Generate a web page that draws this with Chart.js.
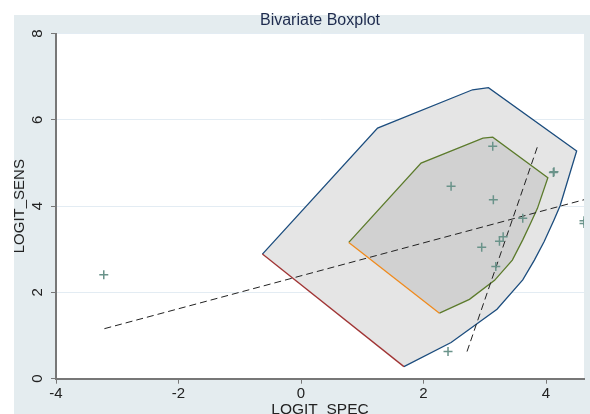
<!DOCTYPE html>
<html>
<head>
<meta charset="utf-8">
<script src="https://cdn.jsdelivr.net/npm/chart.js@4.4.1/dist/chart.umd.min.js"></script>
<style>
  html, body { margin: 0; padding: 0; background: #fff; }
  #wrap { width: 590px; height: 414px; }
</style>
</head>
<body>
<div id="wrap"><canvas id="boxplot"></canvas></div>
<script>
// outer hull (fence), starts at left vertex, goes clockwise, closes back
var outerX = [-0.63, 1.25, 2.80, 3.06, 4.50, 4.23, 4.13, 3.97, 3.81, 3.62, 3.20, 2.45, 1.68, -0.63];
var outerY = [2.89, 5.81, 6.70, 6.75, 5.28, 4.01, 3.68, 3.18, 2.75, 2.29, 1.61, 0.84, 0.28, 2.89];

// inner hull (hinge)
var innerX = [0.78, 1.96, 2.97, 3.13, 4.03, 3.86, 3.75, 3.62, 3.45, 3.16, 2.75, 2.26, 0.78];
var innerY = [3.16, 5.00, 5.58, 5.60, 4.66, 3.95, 3.61, 3.22, 2.75, 2.28, 1.84, 1.52, 3.16];

// observed studies
var ptX = [-3.22, 2.40, 2.45, 3.13, 3.14, 2.95, 3.18, 3.24, 3.30, 3.62, 4.12, 4.13, 4.62, 4.62];
var ptY = [2.41, 0.63, 4.46, 5.39, 4.15, 3.05, 2.60, 3.19, 3.29, 3.72, 4.78, 4.80, 3.60, 3.66];

// regression lines (y on x, x on y)
var line1X = [-3.21, 4.62];
var line1Y = [1.16, 4.15];
var line2X = [2.71, 3.86];
var line2Y = [0.63, 5.38];

var xTicks = [-4, -2, 0, 2, 4];
var yTicks = [0, 2, 4, 6, 8];

function pts(xs, ys) {
    return xs.map(function (x, i) { return { x: x, y: ys[i] }; });
}

var axisGray = '#777777';
var fontName = '"Liberation Sans", Arial, sans-serif';

// stata-like background: light panel, white plot region
var bgPlugin = {
    id: 'bg',
    beforeDraw: function (chart) {
        var ctx = chart.ctx, a = chart.chartArea;
        ctx.save();
        ctx.fillStyle = '#ffffff';
        ctx.fillRect(0, 0, chart.width, chart.height);
        ctx.fillStyle = '#e4ecef';
        ctx.fillRect(14, 15, chart.width - 14, chart.height - 15);
        ctx.fillStyle = '#ffffff';
        ctx.fillRect(a.left, a.top, a.right - a.left, a.bottom - a.top);
        ctx.restore();
    }
};

var ctx = document.getElementById('boxplot').getContext('2d');
var chart = new Chart(ctx, {
    type: 'scatter',
    data: {
        datasets: [
            {
                label: 'studies',
                data: pts(ptX, ptY),
                pointStyle: 'cross',
                pointRadius: 4.5,
                pointBorderWidth: 1.5,
                borderColor: '#6a938a',
                backgroundColor: '#6a938a'
            },
            {
                label: 'line1',
                data: pts(line1X, line1Y),
                showLine: true,
                pointRadius: 0,
                borderColor: '#222222',
                borderWidth: 1,
                borderDash: [7, 4]
            },
            {
                label: 'line2',
                data: pts(line2X, line2Y),
                showLine: true,
                pointRadius: 0,
                borderColor: '#222222',
                borderWidth: 1,
                borderDash: [7, 4]
            },
            {
                label: 'hinge',
                data: pts(innerX, innerY),
                showLine: true,
                pointRadius: 0,
                fill: 'shape',
                backgroundColor: '#d1d1d1',
                borderColor: '#5c7b2c',
                borderWidth: 1.3,
                segment: {
                    borderColor: function (c) { return c.p0DataIndex === innerX.length - 2 ? '#f08a1c' : undefined; }
                }
            },
            {
                label: 'fence',
                data: pts(outerX, outerY),
                showLine: true,
                pointRadius: 0,
                fill: 'shape',
                backgroundColor: '#e5e5e5',
                borderColor: '#1c4d7e',
                borderWidth: 1.3,
                segment: {
                    borderColor: function (c) { return c.p0DataIndex === outerX.length - 2 ? '#a03434' : undefined; }
                }
            }
        ]
    },
    options: {
        responsive: true,
        maintainAspectRatio: false,
        animation: false,
        layout: { padding: { left: 0, right: 3, top: 0, bottom: 0 } },
        plugins: {
            legend: { display: false },
            tooltip: { enabled: false },
            title: {
                display: true,
                text: 'Bivariate Boxplot',
                fullSize: false,
                color: '#1e2b4e',
                font: { family: fontName, size: 16, weight: 'normal' },
                padding: { top: 11.4, bottom: 3.1 }
            }
        },
        scales: {
            x: {
                type: 'linear',
                min: -4,
                max: 4.62,
                afterFit: function (s) { s.height = 35.3; },
                afterBuildTicks: function (s) { s.ticks = xTicks.map(function (v) { return { value: v }; }); },
                ticks: { color: '#222222', padding: 1.5, font: { family: fontName, size: 15 } },
                grid: { drawOnChartArea: false, tickLength: 5, tickColor: axisGray, tickWidth: 1 },
                border: { color: axisGray, width: 2 },
                title: {
                    display: true,
                    text: 'LOGIT_SPEC',
                    color: '#222222',
                    font: { family: fontName, size: 15.5 },
                    padding: { top: 0, bottom: -5.5 }
                }
            },
            y: {
                type: 'linear',
                min: 0,
                max: 8,
                afterFit: function (s) { s.width = 56; },
                afterBuildTicks: function (s) { s.ticks = yTicks.map(function (v) { return { value: v }; }); },
                ticks: {
                    color: '#222222',
                    padding: 8.5,
                    minRotation: 90,
                    maxRotation: 90,
                    crossAlign: 'center',
                    font: { family: fontName, size: 15 }
                },
                grid: { color: '#e3ecf3', lineWidth: 1, tickLength: 5, tickColor: axisGray, tickWidth: 1 },
                border: { color: axisGray, width: 2 },
                title: {
                    display: true,
                    text: 'LOGIT_SENS',
                    color: '#222222',
                    font: { family: fontName, size: 15 },
                    padding: { top: 11, bottom: 0 }
                }
            }
        }
    },
    plugins: [bgPlugin]
});
</script>
</body>
</html>
